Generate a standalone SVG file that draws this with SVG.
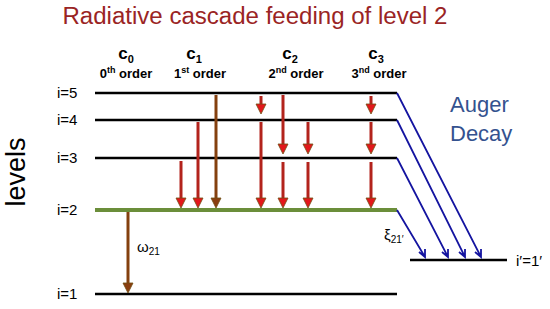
<svg xmlns="http://www.w3.org/2000/svg" width="550" height="309" viewBox="0 0 550 309">
<style>
text{font-family:"Liberation Sans","Open Sans",Arial,sans-serif;}
.lvl{stroke:#000;stroke-width:2.5;}
.lbl{font-size:15px;fill:#000;}
.hdr{font-size:17px;font-weight:bold;fill:#000;}
.ord{font-size:13px;font-weight:bold;fill:#000;}
.sh{stroke:#B3231C;stroke-width:3;}
.hd{fill:#E3171B;stroke:#6E4E12;stroke-width:0.8;}
.shb{stroke:#84400F;stroke-width:3;}
.hdb{fill:#8A3E10;stroke:#6E4E12;stroke-width:0.8;}
.bl{stroke:#1414A0;stroke-width:1.8;fill:none;}
</style>
<rect width="550" height="309" fill="#fff"/>
<text x="255" y="24" text-anchor="middle" font-size="23" fill="#9A2424" textLength="385" lengthAdjust="spacingAndGlyphs">Radiative cascade feeding of level 2</text>
<g id="headers">
<text class="hdr" x="126" y="59" text-anchor="middle">c<tspan font-size="11" dy="4">0</tspan></text>
<text class="ord" x="126" y="78" text-anchor="middle">0<tspan font-size="9" dy="-5">th</tspan><tspan dy="5"> order</tspan></text>
<text class="hdr" x="194" y="59" text-anchor="middle">c<tspan font-size="11" dy="4">1</tspan></text>
<text class="ord" x="200" y="78" text-anchor="middle">1<tspan font-size="9" dy="-5">st</tspan><tspan dy="5"> order</tspan></text>
<text class="hdr" x="290" y="59" text-anchor="middle">c<tspan font-size="11" dy="4">2</tspan></text>
<text class="ord" x="296" y="78" text-anchor="middle">2<tspan font-size="9" dy="-5">nd</tspan><tspan dy="5"> order</tspan></text>
<text class="hdr" x="376" y="59" text-anchor="middle">c<tspan font-size="11" dy="4">3</tspan></text>
<text class="ord" x="379" y="78" text-anchor="middle">3<tspan font-size="9" dy="-5">nd</tspan><tspan dy="5"> order</tspan></text>
</g>
<text x="25" y="172" transform="rotate(-90 25 172)" text-anchor="middle" font-size="27" fill="#000">levels</text>
<g id="level5"><line class="lvl" x1="95" y1="93" x2="397" y2="93"/><text class="lbl" x="57" y="98">i=5</text></g>
<g id="level4"><line class="lvl" x1="95" y1="120" x2="397" y2="120"/><text class="lbl" x="57" y="125">i=4</text></g>
<g id="level3"><line class="lvl" x1="95" y1="158" x2="397" y2="158"/><text class="lbl" x="57" y="163">i=3</text></g>
<g id="level2"><line x1="95" y1="210" x2="397" y2="210" stroke="#6B8E3A" stroke-width="4"/><text class="lbl" x="57" y="215">i=2</text></g>
<g id="level1"><line class="lvl" x1="95" y1="294" x2="397" y2="294"/><text class="lbl" x="57" y="299">i=1</text></g>
<g id="level1p"><line class="lvl" x1="410" y1="260" x2="507" y2="260"/><text class="lbl" x="516" y="266" font-size="16">i′=1′</text></g>
<g id="auger"><text x="450" y="112" font-size="22" fill="#34528F">Auger</text><text x="450" y="141" font-size="22" fill="#34528F">Decay</text></g>
<g id="connectors">
<line class="sh" x1="181" y1="161" x2="181" y2="199"/><polygon class="hd" points="176,198 186,198 181,208"/>
<line class="sh" x1="198" y1="122" x2="198" y2="199"/><polygon class="hd" points="193,198 203,198 198,208"/>
<line class="shb" x1="216" y1="95" x2="216" y2="199"/><polygon class="hdb" points="211,198 221,198 216,208"/>
<line class="sh" x1="261" y1="96" x2="261" y2="106"/><polygon class="hd" points="256,104 266,104 261,114"/>
<line class="sh" x1="261" y1="122" x2="261" y2="199"/><polygon class="hd" points="256,198 266,198 261,208"/>
<line class="sh" x1="283" y1="95" x2="283" y2="145"/><polygon class="hd" points="278,144 288,144 283,154"/>
<line class="sh" x1="283" y1="162" x2="283" y2="199"/><polygon class="hd" points="278,198 288,198 283,208"/>
<line class="sh" x1="308" y1="122" x2="308" y2="145"/><polygon class="hd" points="303,144 313,144 308,154"/>
<line class="sh" x1="308" y1="162" x2="308" y2="199"/><polygon class="hd" points="303,198 313,198 308,208"/>
<line class="sh" x1="371" y1="96" x2="371" y2="106"/><polygon class="hd" points="366,104 376,104 371,114"/>
<line class="sh" x1="371" y1="122" x2="371" y2="145"/><polygon class="hd" points="366,144 376,144 371,154"/>
<line class="sh" x1="371" y1="162" x2="371" y2="199"/><polygon class="hd" points="366,198 376,198 371,208"/>
<line class="shb" x1="128" y1="212" x2="128" y2="284"/><polygon class="hdb" points="123,283 133,283 128,293"/>
<text x="137" y="252" font-size="15" fill="#000">ω<tspan font-size="10" dy="3">21</tspan></text>
<path class="bl" d="M397,210 L425,257 M419,252 L425,257 L425,249"/>
<path class="bl" d="M397,158 L448,257 M442,252 L448,257 L448,249"/>
<path class="bl" d="M397,120 L465,257 M459,252 L465,257 L465,249"/>
<path class="bl" d="M397,93 L481,257 M475,252 L481,257 L481,249"/>
<text x="384" y="240" font-size="15" fill="#000">ξ<tspan font-size="10" dy="3">21′</tspan></text>
</g>
</svg>
